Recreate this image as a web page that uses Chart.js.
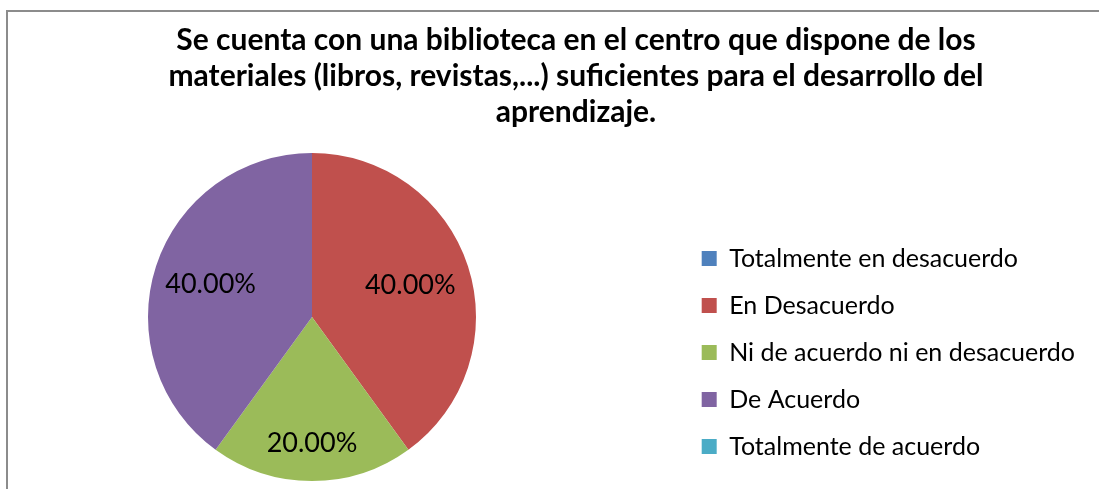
<!DOCTYPE html>
<html>
<head>
<meta charset="utf-8">
<title>Biblioteca del centro</title>
<script src="https://cdn.jsdelivr.net/npm/chart.js@4.4.1/dist/chart.umd.min.js"></script>
<style>
    html, body { margin: 0; padding: 0; background: #fff; }
    .frame { position: relative; width: 1099px; height: 489px; overflow: hidden; }
    .frame::before {
        content: "";
        position: absolute;
        left: 6px; top: 10px; right: -10px; bottom: -10px;
        border-left: 2px solid #8c8c8c;
        border-top: 2px solid #8c8c8c;
    }
    canvas { position: absolute; left: 0; top: 0; }
</style>
</head>
<body>
<div class="frame"><canvas id="pie" width="1099" height="489"></canvas></div>
<script>
// Datos de la encuesta
const categories = [
    "Totalmente en desacuerdo",
    "En Desacuerdo",
    "Ni de acuerdo ni en desacuerdo",
    "De Acuerdo",
    "Totalmente de acuerdo",
];
const percentages = [0, 40, 20, 40, 0];
const titleLines = [
    "Se cuenta con una biblioteca en el centro que dispone de los",
    "materiales (libros, revistas,...) suficientes para el desarrollo del",
    "aprendizaje.",
];

const sliceColors = ["#4F81BD", "#C0504D", "#9BBB59", "#8064A2", "#4BACC6"];
// distancia de cada etiqueta al centro, como fraccion del radio
const labelRadius = [0.6, 0.63, 0.77, 0.65, 0.6];

const PIE_CENTER_X = 312;
const LEGEND_MID_Y = 352.5;
const FONT = "Lato";

// coloca el area del pastel y la leyenda donde van
const placeBoxes = {
    id: "placeBoxes",
    afterLayout(chart) {
        const area = chart.chartArea;
        const side = area.bottom - area.top;
        area.left = PIE_CENTER_X - side / 2;
        area.right = PIE_CENTER_X + side / 2;
        area.width = side;
        area.height = side;

        const lg = chart.legend;
        const dy = LEGEND_MID_Y - (lg.top + lg.bottom) / 2;
        lg.top += dy;
        lg.bottom += dy;
    },
};

// porcentajes dentro de cada sector
const sliceLabels = {
    id: "sliceLabels",
    afterDatasetsDraw(chart) {
        const ctx = chart.ctx;
        const meta = chart.getDatasetMeta(0);
        ctx.save();
        ctx.font = "27px " + FONT;
        ctx.fillStyle = "#000";
        ctx.textAlign = "center";
        ctx.textBaseline = "middle";
        meta.data.forEach((arc, i) => {
            const v = percentages[i];
            if (!v) return;
            const p = arc.getProps(["x", "y", "startAngle", "endAngle", "outerRadius"], true);
            const mid = (p.startAngle + p.endAngle) / 2;
            const r = p.outerRadius * labelRadius[i];
            ctx.fillText(v.toFixed(2) + "%", p.x + Math.cos(mid) * r, p.y + Math.sin(mid) * r);
        });
        ctx.restore();
    },
};

const pieConfig = {
    type: "pie",
    data: {
        labels: categories,
        datasets: [
            {
                data: percentages,
                backgroundColor: sliceColors,
                borderWidth: 0,
            },
        ],
    },
    options: {
        responsive: false,
        animation: false,
        layout: {
            padding: { top: 12, left: 67, right: 14, bottom: 8 },
        },
        plugins: {
            title: {
                display: true,
                text: titleLines,
                color: "#000",
                padding: { top: 10, bottom: 23 },
                font: { family: FONT, weight: "bold", size: 30, lineHeight: "36px" },
            },
            legend: {
                position: "right",
                labels: {
                    color: "#000",
                    boxWidth: 15,
                    boxHeight: 15,
                    padding: 22,
                    font: { family: FONT, size: 25 },
                },
            },
            tooltip: { enabled: false },
        },
    },
    plugins: [placeBoxes, sliceLabels],
};

var pieChart = new Chart(document.getElementById("pie"), pieConfig);
</script>
</body>
</html>
